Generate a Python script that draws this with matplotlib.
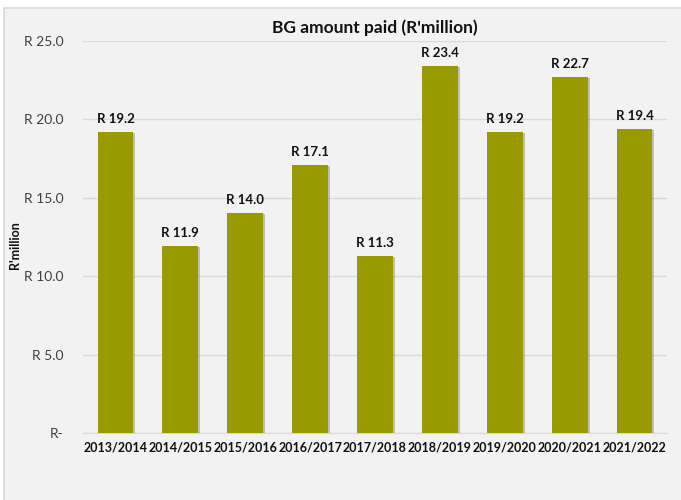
import matplotlib
matplotlib.use("Agg")
import matplotlib.pyplot as plt
import matplotlib.patheffects as pe
from matplotlib.patches import Rectangle
from matplotlib.ticker import FuncFormatter

years = ["2013/2014", "2014/2015", "2015/2016", "2016/2017", "2017/2018",
         "2018/2019", "2019/2020", "2020/2021", "2021/2022"]
paid = [19.2, 11.9, 14.0, 17.1, 11.3, 23.4, 19.2, 22.7, 19.4]

plt.rcParams['font.family'] = ['Lato', 'DejaVu Sans']

fig = plt.figure(figsize=(6.81, 5.0), dpi=100, facecolor="white")
# grey chart panel behind everything
fig.patches.append(Rectangle((4 / 681, -0.01), 1.0, 1 - 8 / 500 + 0.01,
                             transform=fig.transFigure, facecolor="#f2f2f2",
                             edgecolor="#d9d9d9", linewidth=1.2, zorder=-1))

ax = fig.add_axes([83 / 681, 1 - 433 / 500, (667 - 83) / 681, (433 - 41) / 500])
ax.set_facecolor("none")

bars = ax.bar(range(len(years)), paid, width=0.55, color="#999900", zorder=3)
for b in bars:
    b.set_path_effects([pe.SimplePatchShadow(offset=(1.5, -0.5), shadow_rgbFace="#808080", alpha=0.45),
                        pe.Normal()])

for i, v in enumerate(paid):
    ax.text(i, v + 0.45, f"R {v:.1f}", ha="center", va="bottom",
            fontsize=9.5, fontweight="bold", color="#111111")

ax.set_ylim(0, 25)
ax.set_xlim(-0.5, len(years) - 0.5)
ax.set_yticks([0, 5, 10, 15, 20, 25])
ax.yaxis.set_major_formatter(FuncFormatter(lambda y, _: "R-" if y == 0 else f"R {y:.1f}"))
ax.set_xticks(range(len(years)))
ax.set_xticklabels(years, fontsize=9, fontweight="bold", color="#111111")
ax.tick_params(axis="y", labelsize=10, labelcolor="#404040", length=0, pad=14)
ax.tick_params(axis="x", length=0, pad=6)

ax.grid(axis="y", color="#d9d9d9", linewidth=1, zorder=0)
for s in ["top", "right", "left"]:
    ax.spines[s].set_visible(False)
ax.spines["bottom"].set_color("#d9d9d9")

ax.set_ylabel("R'million", fontsize=9, fontweight="bold", color="#111111")
ax.yaxis.set_label_coords(-62 / 584, 0.48)
ax.set_title("BG amount paid (R'million)", fontsize=12.5, fontweight="bold",
             color="#111111", pad=6)

fig.savefig("out.png", dpi=100, facecolor="white")
